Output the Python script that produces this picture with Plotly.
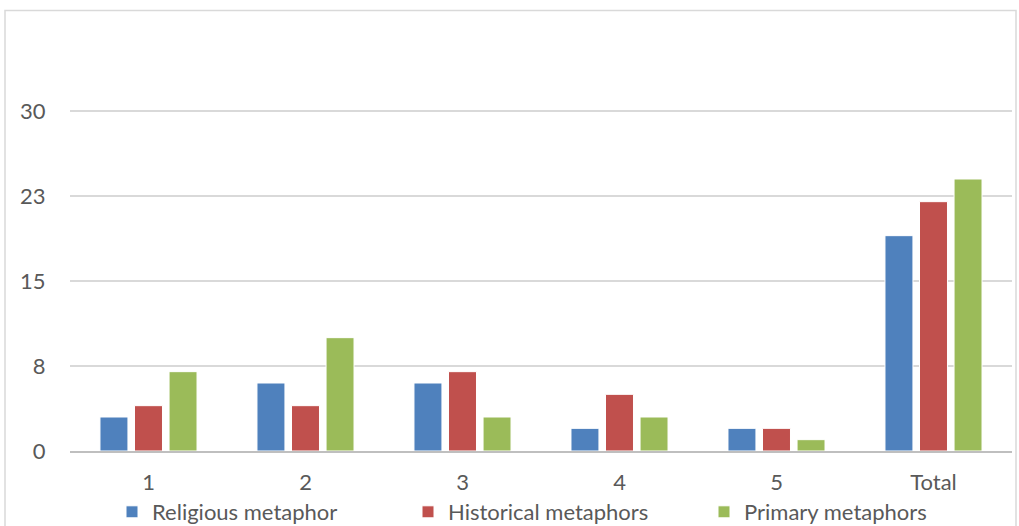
import plotly.graph_objects as go

categories = ["1", "2", "3", "4", "5", "Total"]
religious = [3, 6, 6, 2, 2, 19]
historical = [4, 4, 7, 5, 2, 22]
primary = [7, 10, 3, 3, 1, 24]
series_names = ["Religious metaphor", "Historical metaphors", "Primary metaphors"]
colors = ["#4f81bd", "#c0504d", "#9bbb59"]
ytick_vals = [0, 7.5, 15, 22.5, 30]
ytick_text = ["0", "8", "15", "23", "30"]

W, H = 1019, 526
L, R, T, B = 70, 7, 26, 75
pw, ph = W - L - R, H - T - B

fig = go.Figure()
for name, vals, c in zip(series_names, [religious, historical, primary], colors):
    fig.add_trace(go.Bar(x=categories, y=vals, name=name,
                         marker=dict(color=c, line=dict(color="white", width=1))))

font_family = "Lato, 'Open Sans', sans-serif"
fs = 22
fig.update_layout(
    width=W, height=H,
    margin=dict(l=L, r=R, t=T, b=B, autoexpand=False),
    paper_bgcolor="white", plot_bgcolor="white",
    barmode="group", bargap=0.34, bargroupgap=0.19,
    font=dict(family=font_family, size=fs, color="#595959"),
    showlegend=True,
    legend=dict(orientation="h", xref="container", yref="container",
                x=112 / W, xanchor="left", y=(H - 512) / H, yanchor="middle",
                font=dict(size=fs, color="#595959"), itemwidth=30,
                entrywidth=251, entrywidthmode="pixels",
                traceorder="normal", bgcolor="rgba(0,0,0,0)"),
    xaxis=dict(showgrid=False, showline=True, linecolor="#bfbfbf", linewidth=1.5,
               ticks="outside", ticklen=11, tickcolor="rgba(0,0,0,0)",
               tickfont=dict(size=fs, color="#595959")),
    yaxis=dict(range=[0, 37.5], tickvals=ytick_vals, ticktext=ytick_text,
               showgrid=True, gridcolor="#d9d9d9", gridwidth=1.5, zeroline=False,
               showline=False, ticks="outside", ticklen=19, tickcolor="rgba(0,0,0,0)",
               tickfont=dict(size=fs, color="#595959")),
    shapes=[dict(type="rect", xref="paper", yref="paper",
                 x0=(5 - L) / pw, x1=(1016 - L) / pw,
                 y0=-0.3, y1=(451 - 10.5) / ph,
                 line=dict(color="#d9d9d9", width=1.5), fillcolor="rgba(0,0,0,0)",
                 layer="below")],
)

fig.write_html("out.html")
